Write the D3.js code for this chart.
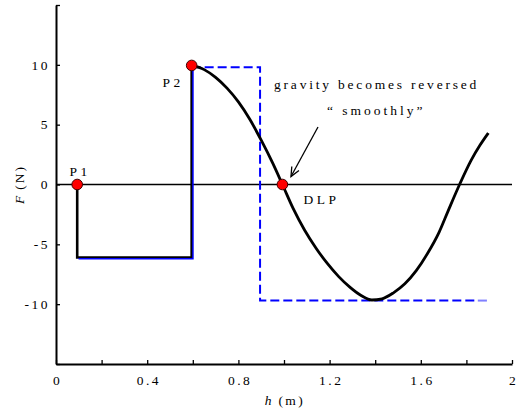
<!DOCTYPE html>
<html>
<head>
<meta charset="utf-8">
<script src="https://cdn.jsdelivr.net/npm/d3@7"></script>
<style>
  body { margin: 0; background: #fff; }
  svg text { font-family: "Liberation Serif", "Times New Roman", "DejaVu Serif", serif; fill: #000; }
</style>
</head>
<body>
<svg id="chart" width="525" height="411"></svg>
<script>
// Force F (N) against height h (m)
const xTicks = [0, 0.2, 0.4, 0.6, 0.8, 1.0, 1.2, 1.4, 1.6, 1.8, 2.0];
const xTickLabels = ["0", "", "0.4", "", "0.8", "", "1.2", "", "1.6", "", "2"];
const yTicks = [-15, -10, -5, 0, 5, 10, 15];
const yTickLabels = ["", "-10", "-5", "0", "5", "10", ""];

// Stepped force before the release point (black)
const stepH = [0.093, 0.093, 0.595, 0.595];
const stepF = [0, -6.1, -6.1, 10];

// Smooth force after P2 (black)
const curveH = [0.595, 0.65, 0.70, 0.75, 0.80, 0.85, 0.90, 0.95, 0.993, 1.04, 1.09, 1.14, 1.19, 1.24, 1.29, 1.34, 1.385, 1.43, 1.48, 1.53, 1.58, 1.63, 1.68, 1.72, 1.77, 1.82, 1.86, 1.896];
const curveF = [9.95, 9.6, 8.95, 8.05, 6.9, 5.45, 3.7, 1.8, 0.0, -2.0, -3.8, -5.3, -6.6, -7.7, -8.6, -9.3, -9.65, -9.55, -9.05, -8.3, -7.2, -5.75, -4.0, -2.2, 0.0, 2.0, 3.3, 4.3];

// Blue reference: solid step, then abrupt dashed reversal
const blueSolidH = [0.093, 0.595, 0.595];
const blueSolidF = [-6.1, -6.1, 10];
const blueDashH = [0.595, 0.895, 0.895, 1.85];
const blueDashF = [9.8, 9.8, -9.7, -9.7];
const blueTailH = [1.85, 1.89];
const blueTailF = [-9.7, -9.7];

// Marked points
const markerNames = ["P1", "P2", "DLP"];
const markerH = [0.093, 0.595, 0.993];
const markerF = [0, 9.95, 0];

const svg = d3.select("#chart");
const x = d3.scaleLinear().domain([0, 2]).range([56, 512]);
const y = d3.scaleLinear().domain([-15, 15]).range([364, 5]);

const zip = (a, b) => a.map((v, i) => [v, b[i]]);
const line = d3.line().x(d => x(d[0])).y(d => y(d[1]));
const smooth = d3.line().x(d => x(d[0])).y(d => y(d[1])).curve(d3.curveMonotoneX);

// zero reference line
svg.append("line")
  .attr("x1", x(0)).attr("x2", x(2))
  .attr("y1", y(0)).attr("y2", y(0))
  .attr("stroke", "#000").attr("stroke-width", 1.3);

// blue dashed reversal
svg.append("path").datum(zip(blueDashH, blueDashF))
  .attr("d", line).attr("fill", "none")
  .attr("stroke", "#0000ff").attr("stroke-width", 2)
  .attr("stroke-dasharray", "9,4");
svg.append("path").datum(zip(blueTailH, blueTailF))
  .attr("d", line).attr("fill", "none")
  .attr("stroke", "#8080ff").attr("stroke-width", 2);

// black force curve
svg.append("path").datum(zip(stepH, stepF))
  .attr("d", line).attr("fill", "none")
  .attr("stroke", "#000").attr("stroke-width", 2.6)
  .attr("stroke-linejoin", "miter");
svg.append("path").datum(zip(curveH, curveF))
  .attr("d", smooth).attr("fill", "none")
  .attr("stroke", "#000").attr("stroke-width", 2.8)
  .attr("stroke-linejoin", "round");

// blue solid step drawn just beside the black one
svg.append("path").datum(zip(blueSolidH, blueSolidF))
  .attr("d", line).attr("fill", "none")
  .attr("transform", "translate(1.3,1.3)")
  .attr("stroke", "#0000ff").attr("stroke-width", 1.5);

// axes
const xAxis = d3.axisBottom(x).tickValues(xTicks)
  .tickSizeInner(-4).tickSizeOuter(0).tickPadding(10)
  .tickFormat((d, i) => xTickLabels[i]);
const gx = svg.append("g").attr("transform", `translate(0,${y(-15)})`).call(xAxis);
const yAxis = d3.axisLeft(y).tickValues(yTicks)
  .tickSizeInner(-4).tickSizeOuter(0).tickPadding(8)
  .tickFormat((d, i) => yTickLabels[i]);
const gy = svg.append("g").attr("transform", `translate(${x(0)},0)`).call(yAxis);

[gx, gy].forEach(g => {
  g.attr("font-family", '"Liberation Serif", serif');
  g.select(".domain").attr("stroke", "#000").attr("stroke-width", 2);
  g.selectAll(".tick line").attr("stroke", "#000").attr("stroke-width", 1.3);
  g.selectAll(".tick text")
    .style("font-size", "13.5px").style("letter-spacing", "2.5px");
});
gx.selectAll(".tick text").attr("dx", "1.2px").attr("dy", "0.85em");
gy.selectAll(".tick text").attr("dx", "2px");

// axis titles
const yTitle = svg.append("text")
  .attr("transform", `translate(24,${y(0)}) rotate(-90)`)
  .attr("text-anchor", "middle").style("font-size", "13.5px");
yTitle.append("tspan").style("font-style", "italic").text("F");
yTitle.append("tspan").attr("dx", 6).style("letter-spacing", "2px").text("(N)");

const xTitle = svg.append("text")
  .attr("x", 285).attr("y", 405)
  .attr("text-anchor", "middle").style("font-size", "13.5px");
xTitle.append("tspan").style("font-style", "italic").text("h");
xTitle.append("tspan").attr("dx", 7).style("letter-spacing", "2.5px").text("(m)");

// markers
svg.selectAll("circle.marker")
  .data(zip(markerH, markerF))
  .join("circle").attr("class", "marker")
  .attr("cx", d => x(d[0])).attr("cy", d => y(d[1]))
  .attr("r", 5.3)
  .attr("fill", "#ff0000").attr("stroke", "#400000").attr("stroke-width", 1);

// marker labels
const labelOffsets = { P1: [3, -9, "middle"], P2: [-8, 22, "end"], DLP: [21, 19, "start"] };
markerNames.forEach((name, i) => {
  const [dx, dy, anchor] = labelOffsets[name];
  svg.append("text")
    .attr("x", x(markerH[i]) + dx).attr("y", y(markerF[i]) + dy)
    .attr("text-anchor", anchor)
    .style("font-size", "13.5px").style("letter-spacing", "3.5px")
    .text(name);
});

// annotation
svg.append("text").attr("x", 274).attr("y", 89)
  .style("font-size", "13.5px").style("letter-spacing", "2.8px")
  .text("gravity becomes reversed");
svg.append("text").attr("x", 327).attr("y", 115)
  .style("font-size", "13.5px").style("letter-spacing", "3px")
  .text("\u201C smoothly\u201D");

// arrow towards DLP
const ax1 = 318, ay1 = 127, ax2 = 291, ay2 = 176.5;
svg.append("line").attr("x1", ax1).attr("y1", ay1).attr("x2", ax2).attr("y2", ay2)
  .attr("stroke", "#000").attr("stroke-width", 1.3);
const ang = Math.atan2(ay2 - ay1, ax2 - ax1);
const headLen = 10, spread = 0.42;
svg.append("path")
  .attr("d", `M${ax2 - headLen * Math.cos(ang - spread)},${ay2 - headLen * Math.sin(ang - spread)}
              L${ax2},${ay2}
              L${ax2 - headLen * Math.cos(ang + spread)},${ay2 - headLen * Math.sin(ang + spread)}`)
  .attr("fill", "none").attr("stroke", "#000").attr("stroke-width", 1.3);
</script>
</body>
</html>
